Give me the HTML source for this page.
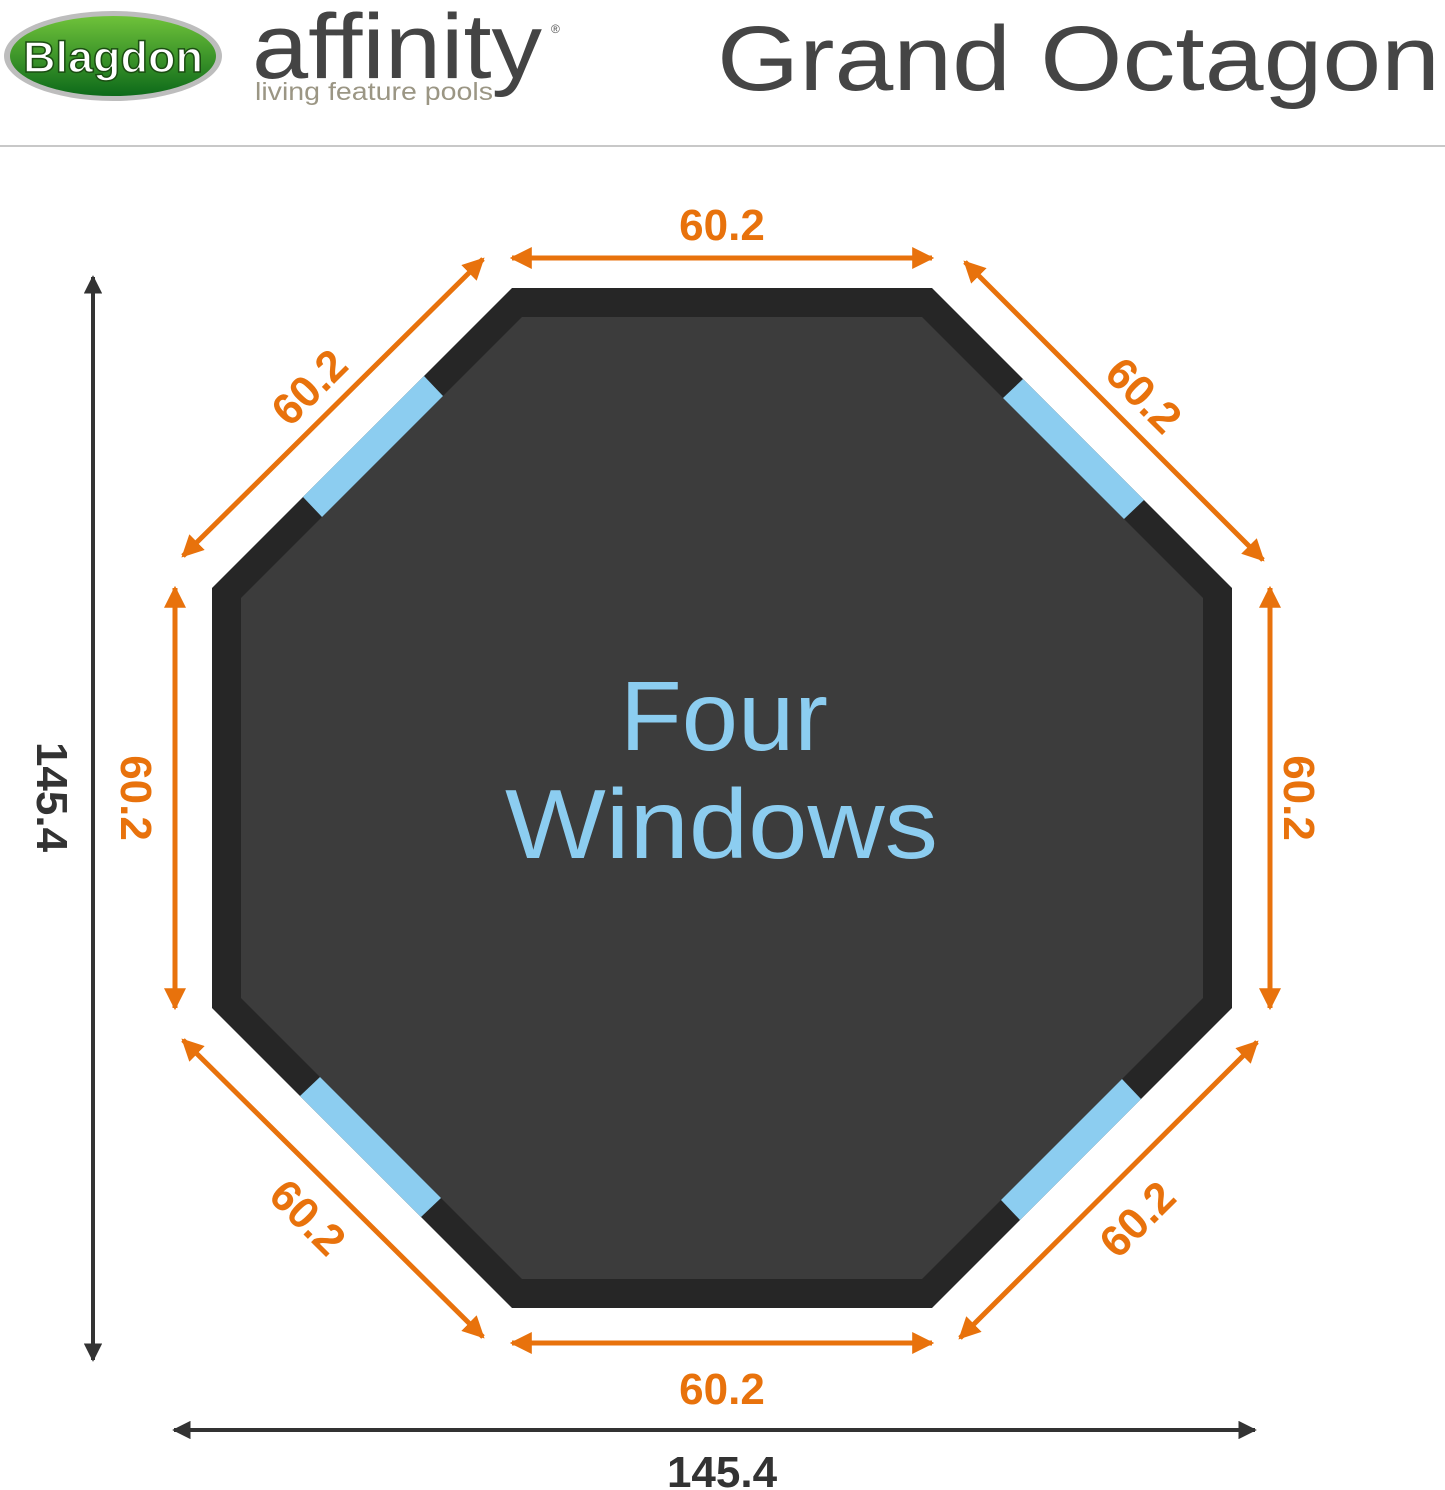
<!DOCTYPE html>
<html><head><meta charset="utf-8"><style>
html,body{margin:0;padding:0;background:#fff;}
svg{display:block;}
</style></head><body>
<svg width="1445" height="1490" viewBox="0 0 1445 1490" xmlns="http://www.w3.org/2000/svg" font-family="Liberation Sans, sans-serif">
<defs>
<marker id="ao" viewBox="0 0 10 10" refX="9" refY="5" markerWidth="4.4" markerHeight="4.4" orient="auto-start-reverse" markerUnits="strokeWidth"><path d="M0,0 L10,5 L0,10 z" fill="#e8720c"/></marker>
<marker id="ak" viewBox="0 0 10 10" refX="9" refY="5" markerWidth="4.6" markerHeight="4.6" orient="auto-start-reverse" markerUnits="strokeWidth"><path d="M0,0 L10,5 L0,10 z" fill="#333"/></marker>
<linearGradient id="gr" x1="0" y1="0" x2="0" y2="1"><stop offset="0" stop-color="#6fc23a"/><stop offset="1" stop-color="#0d6a1a"/></linearGradient>
</defs>
<ellipse cx="113" cy="56" rx="109" ry="45" fill="#bdbdbd"/>
<ellipse cx="113" cy="56" rx="103" ry="40" fill="url(#gr)"/>
<text x="113" y="72" font-size="44" font-weight="bold" fill="#fff" text-anchor="middle" stroke="#1b4d12" stroke-width="1.5" textLength="180" lengthAdjust="spacingAndGlyphs">Blagdon</text>
<text x="252" y="78" font-size="92" fill="#444" textLength="290" lengthAdjust="spacingAndGlyphs">affinity</text>
<text x="551" y="33" font-size="12" fill="#555">®</text>
<text x="255" y="100" font-size="25" fill="#9b9684" textLength="238" lengthAdjust="spacingAndGlyphs">living feature pools</text>
<text x="717" y="90" font-size="92" fill="#454545" textLength="723" lengthAdjust="spacingAndGlyphs">Grand Octagon</text>
<rect x="0" y="145" width="1445" height="2" fill="#c8c8c8"/>
<polygon points="512,288 932,288 1232,588 1232,1008 932,1308 512,1308 212,1008 212,588" fill="#262626"/>
<polygon points="522,317 922,317 1203,598 1203,998 922,1279 522,1279 241,998 241,598" fill="#3c3c3c"/>
<g fill="#8ccdf0">
<polygon points="303,497 424,376 443,396 322,517"/>
<polygon points="303,497 424,376 443,396 322,517" transform="rotate(90 722 798)"/>
<polygon points="303,497 424,376 443,396 322,517" transform="rotate(180 722 798)"/>
<polygon points="303,497 424,376 443,396 322,517" transform="rotate(270 722 798)"/>
</g>
<text x="620" y="750" font-size="98" fill="#8ccdf0" textLength="208" lengthAdjust="spacingAndGlyphs">Four</text>
<text x="505" y="858" font-size="98" fill="#8ccdf0" textLength="433" lengthAdjust="spacingAndGlyphs">Windows</text>
<g stroke="#e8720c" stroke-width="5" fill="none" marker-start="url(#ao)" marker-end="url(#ao)">
<line x1="512" y1="258" x2="932" y2="258"/>
<line x1="512" y1="1343" x2="932" y2="1343"/>
<line x1="175" y1="588" x2="175" y2="1008"/>
<line x1="1270" y1="588" x2="1270" y2="1008"/>
<line x1="183" y1="556" x2="483" y2="259"/>
<line x1="965" y1="262" x2="1263" y2="560"/>
<line x1="183" y1="1040" x2="483" y2="1337"/>
<line x1="1257" y1="1042" x2="960" y2="1338"/>
</g>
<g fill="#e8720c" font-size="44" font-weight="bold" text-anchor="middle">
<text x="722" y="240">60.2</text>
<text x="722" y="1404">60.2</text>
<text transform="translate(121,798) rotate(90)">60.2</text>
<text transform="translate(1284,798) rotate(90)">60.2</text>
<text transform="translate(320,398) rotate(-45)">60.2</text>
<text transform="translate(1133,406) rotate(45)">60.2</text>
<text transform="translate(297,1228) rotate(45)">60.2</text>
<text transform="translate(1148,1230) rotate(-45)">60.2</text>
</g>
<g stroke="#333" stroke-width="4" fill="none" marker-start="url(#ak)" marker-end="url(#ak)">
<line x1="93" y1="277" x2="93" y2="1360"/>
<line x1="174" y1="1430" x2="1255" y2="1430"/>
</g>
<g fill="#333" font-size="44" font-weight="bold" text-anchor="middle">
<text transform="translate(37,797) rotate(90)">145.4</text>
<text x="722" y="1487">145.4</text>
</g>
</svg>
</body></html>
